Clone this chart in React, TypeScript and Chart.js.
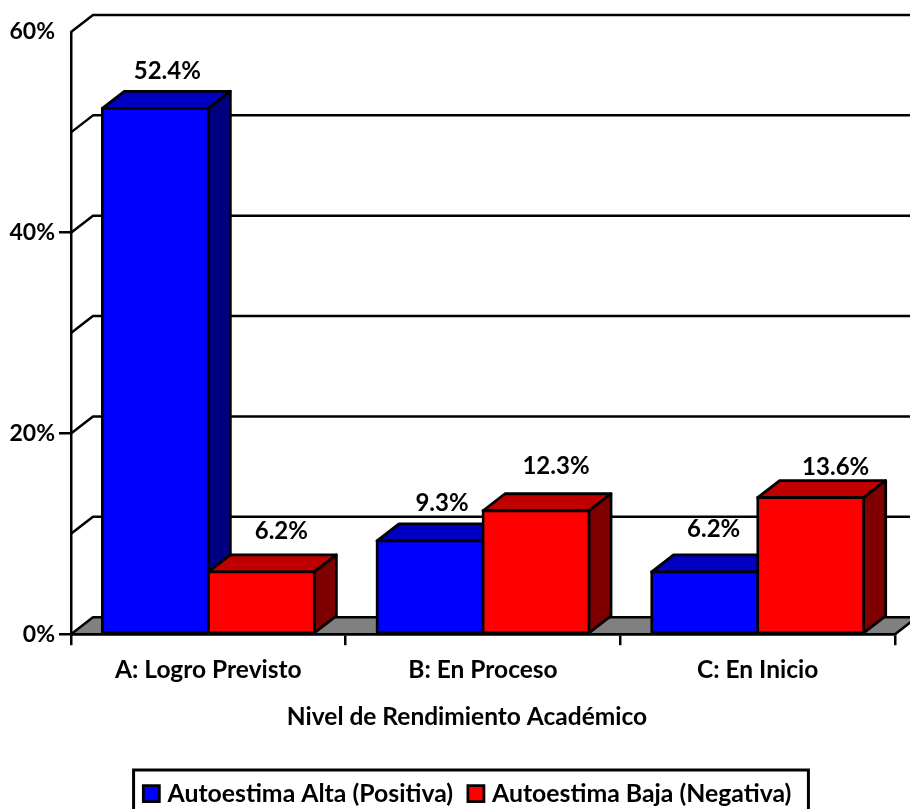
import React, { useEffect, useRef } from "react";
import { Chart, registerables } from "chart.js";

Chart.register(...registerables);

const categories = ["A: Logro Previsto", "B: En Proceso", "C: En Inicio"];
const seriesAltaName = "Autoestima Alta (Positiva)";
const seriesBajaName = "Autoestima Baja (Negativa)";
const seriesAlta = [52.4, 9.3, 6.2];
const seriesBaja = [6.2, 12.3, 13.6];
const xAxisTitle = "Nivel de Rendimiento Académico";
const yLabelEvery = 20;
const yMax = 60;

const FONT = "Lato, Carlito, Calibri, sans-serif";
const FONT_SIZE = 24.5;
const DEPTH_X = 22;
const DEPTH_Y = 17;
const LEGEND_SHIFT = 22;
// hand-placed label nudges from the reference: [series][category] => dx, dy from the bar's back-top centre
const labelNudge = [
  [[1, -20], [1, -21], [-2, -26]],
  [[9, -24], [9, -27], [14, -13.6]],
];
const sideColors = [
  { top: "#0000c0", side: "#000080" },
  { top: "#c00000", side: "#800000" },
];

const threeD = {
  id: "threeD",
  afterLayout(chart: any) {
    // the reference's legend sits right of the canvas centre
    const lg = chart.legend;
    lg.left += LEGEND_SHIFT;
    lg.right += LEGEND_SHIFT;
    lg.adjustHitBoxes();
  },
  beforeDatasetsDraw(chart: any) {
    const { ctx, chartArea: a, scales } = chart;
    const y = scales.y;
    ctx.save();
    ctx.lineWidth = 2.5;
    ctx.strokeStyle = "#000";
    ctx.lineJoin = "round";
    // floor
    const y0 = y.getPixelForValue(0);
    ctx.beginPath();
    ctx.moveTo(a.left, y0);
    ctx.lineTo(a.left + DEPTH_X, y0 - DEPTH_Y);
    ctx.lineTo(a.right + DEPTH_X, y0 - DEPTH_Y);
    ctx.lineTo(a.right, y0);
    ctx.closePath();
    ctx.fillStyle = "#808080";
    ctx.fill();
    ctx.stroke();
    // back-wall grid lines
    y.ticks.forEach((t: any) => {
      if (t.value === 0) return;
      const py = y.getPixelForValue(t.value);
      ctx.beginPath();
      ctx.moveTo(a.left, py);
      ctx.lineTo(a.left + DEPTH_X, py - DEPTH_Y);
      ctx.lineTo(a.right + DEPTH_X, py - DEPTH_Y);
      ctx.stroke();
    });
    // top and side faces of each bar, first series first so the second overlaps it
    ctx.lineWidth = 2.8;
    chart.data.datasets.forEach((_: any, i: number) => {
      const c = sideColors[i];
      chart.getDatasetMeta(i).data.forEach((bar: any) => {
        const p = bar.getProps(["x", "y", "base", "width"], true);
        const l = p.x - p.width / 2;
        const r = p.x + p.width / 2;
        ctx.beginPath();
        ctx.moveTo(l, p.y);
        ctx.lineTo(l + DEPTH_X, p.y - DEPTH_Y);
        ctx.lineTo(r + DEPTH_X, p.y - DEPTH_Y);
        ctx.lineTo(r, p.y);
        ctx.closePath();
        ctx.fillStyle = c.top;
        ctx.fill();
        ctx.stroke();
        ctx.beginPath();
        ctx.moveTo(r, p.y);
        ctx.lineTo(r + DEPTH_X, p.y - DEPTH_Y);
        ctx.lineTo(r + DEPTH_X, p.base - DEPTH_Y);
        ctx.lineTo(r, p.base);
        ctx.closePath();
        ctx.fillStyle = c.side;
        ctx.fill();
        ctx.stroke();
      });
    });
    ctx.restore();
  },
  afterDraw(chart: any) {
    const { ctx, chartArea: a } = chart;
    ctx.save();
    ctx.fillStyle = "#000";
    ctx.textAlign = "center";
    ctx.textBaseline = "middle";
    ctx.font = `bold 24px ${FONT}`;
    // data labels
    chart.data.datasets.forEach((ds: any, i: number) => {
      chart.getDatasetMeta(i).data.forEach((bar: any, j: number) => {
        const [dx, dy] = labelNudge[i][j];
        ctx.fillText(`${ds.data[j].toFixed(1)}%`, bar.x + DEPTH_X / 2 + dx, bar.y - DEPTH_Y + dy);
      });
    });
    // axis title, sits left of the plot's centre in the reference
    ctx.font = `bold ${FONT_SIZE}px ${FONT}`;
    ctx.fillText(xAxisTitle, (a.left + a.right) / 2 - 16, 717);
    // legend frame: its bottom edge runs off the page
    const boxes = chart.legend.legendHitBoxes;
    const first = boxes[0];
    const last = boxes[boxes.length - 1];
    ctx.lineWidth = 3;
    ctx.strokeStyle = "#000";
    const left = first.left - 14;
    const right = last.left + last.width + 17;
    ctx.strokeRect(left, 770, right - left, 45);
    ctx.restore();
  },
};

export default function App() {
  const ref = useRef<HTMLCanvasElement>(null);
  useEffect(() => {
    document.body.style.margin = "0";
    const chart = new Chart(ref.current as HTMLCanvasElement, {
      type: "bar",
      data: {
        labels: categories,
        datasets: [
          {
            label: seriesAltaName,
            data: seriesAlta,
            backgroundColor: "#0000ff",
            borderColor: "#000",
            borderWidth: 2.8,
            borderSkipped: false,
            inflateAmount: 1.4,
          },
          {
            label: seriesBajaName,
            data: seriesBaja,
            backgroundColor: "#ff0000",
            borderColor: "#000",
            borderWidth: 2.8,
            borderSkipped: false,
            inflateAmount: 1.4,
          },
        ],
      } as any,
      options: {
        responsive: false,
        animation: false,
        devicePixelRatio: 1,
        categoryPercentage: 0.772,
        barPercentage: 1,
        layout: { padding: { left: 0, right: 15, top: 32, bottom: -7 } },
        plugins: {
          tooltip: { enabled: false },
          legend: {
            display: true,
            position: "bottom",
            labels: {
              color: "#000",
              font: { family: FONT, size: 24.8, weight: "bold" },
              usePointStyle: true,
              pointStyle: "rect",
              boxWidth: 7.5,
              boxHeight: 16,
              padding: 19,
            },
          },
        },
        scales: {
          x: {
            afterFit(s: any) {
              s.height = 128;
            },
            grid: {
              offset: true,
              drawOnChartArea: false,
              drawTicks: true,
              tickLength: 11,
              color: "#000",
              lineWidth: 2.5,
            },
            border: { display: true, color: "#000", width: 2.5 },
            ticks: {
              color: "#000",
              padding: 10,
              maxRotation: 0,
              font: { family: FONT, size: FONT_SIZE, weight: "bold" },
            },
          },
          y: {
            min: 0,
            max: yMax,
            afterFit(s: any) {
              s.width = 71;
            },
            grid: {
              drawOnChartArea: false,
              drawTicks: true,
              tickLength: 12,
              color: "#000",
              tickColor: (c: any) =>
                c.tick && c.tick.value % yLabelEvery === 0 && c.tick.value !== yMax ? "#000" : "rgba(0,0,0,0)",
              lineWidth: 2.5,
            },
            border: { display: true, color: "#000", width: 2.5 },
            ticks: {
              stepSize: 10,
              autoSkip: false,
              color: "#000",
              padding: 4,
              font: { family: FONT, size: 23, weight: "bold" },
              callback: (v: any) => (v % yLabelEvery === 0 ? `${v}%` : ""),
            },
          },
        },
      } as any,
      plugins: [threeD],
    });
    return () => chart.destroy();
  }, []);
  return <canvas ref={ref} width={910} height={809} style={{ display: "block" }} />;
}
